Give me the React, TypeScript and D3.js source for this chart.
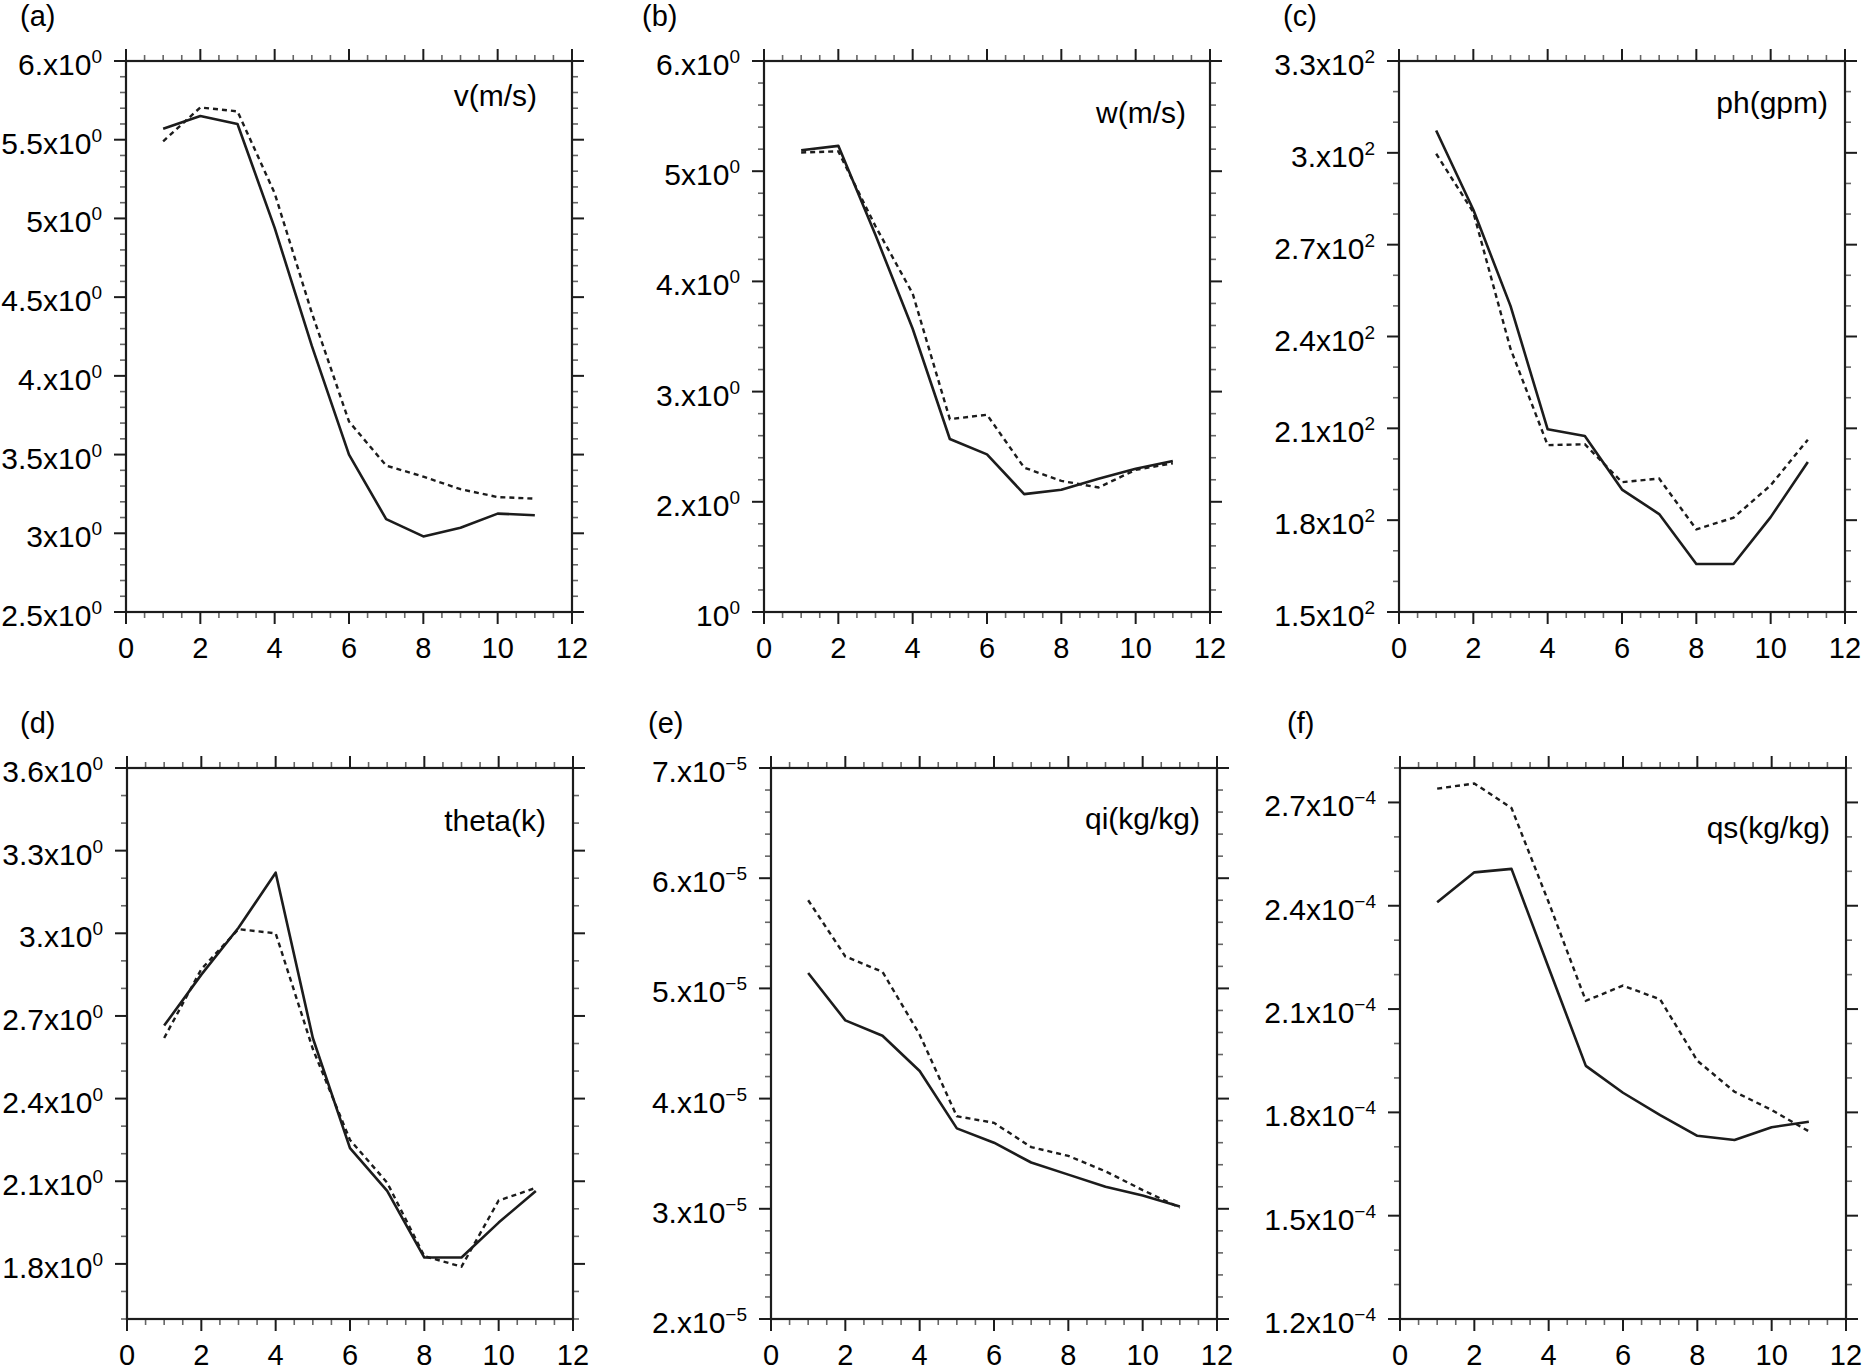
import * as d3 from 'd3';

// x positions shared by every panel
const steps = [1, 2, 3, 4, 5, 6, 7, 8, 9, 10, 11];

// (a) v(m/s)
const vSolid = [5.57, 5.65, 5.6, 4.94, 4.19, 3.5, 3.09, 2.98, 3.035, 3.125, 3.115];
const vDotted = [5.49, 5.705, 5.68, 5.16, 4.4, 3.71, 3.43, 3.36, 3.28, 3.23, 3.22];
const vTicks = [6, 5.5, 5, 4.5, 4, 3.5, 3, 2.5];
const vTickText = ['6.', '5.5', '5', '4.5', '4.', '3.5', '3', '2.5'];

// (b) w(m/s)
const wSolid = [5.19, 5.23, 4.42, 3.57, 2.57, 2.43, 2.07, 2.11, 2.21, 2.3, 2.37];
const wDotted = [5.17, 5.18, 4.5, 3.89, 2.75, 2.79, 2.31, 2.19, 2.13, 2.29, 2.35];
const wTicks = [6, 5, 4, 3, 2, 1];
const wTickText = ['6.', '5', '4.', '3.', '2.', ''];

// (c) ph(gpm)
const phSolid = [307.3, 281.4, 250, 209.7, 207.5, 190, 182, 165.7, 165.7, 181, 199];
const phDotted = [299.7, 280.6, 236, 204.5, 204.8, 192.4, 193.6, 177, 180.8, 191.4, 206.3];
const phTicks = [330, 300, 270, 240, 210, 180, 150];
const phTickText = ['3.3', '3.', '2.7', '2.4', '2.1', '1.8', '1.5'];

// (d) theta(k)
const thetaSolid = [2.665, 2.85, 3.02, 3.22, 2.62, 2.22, 2.065, 1.823, 1.823, 1.95, 2.065];
const thetaDotted = [2.62, 2.87, 3.015, 3.0, 2.58, 2.25, 2.095, 1.828, 1.79, 2.03, 2.076];
const thetaTicks = [3.6, 3.3, 3.0, 2.7, 2.4, 2.1, 1.8];
const thetaTickText = ['3.6', '3.3', '3.', '2.7', '2.4', '2.1', '1.8'];

// (e) qi(kg/kg)
const qiSolid = [5.14e-5, 4.71e-5, 4.57e-5, 4.25e-5, 3.73e-5, 3.6e-5, 3.42e-5, 3.31e-5, 3.2e-5, 3.12e-5, 3.02e-5];
const qiDotted = [5.8e-5, 5.29e-5, 5.15e-5, 4.58e-5, 3.84e-5, 3.78e-5, 3.56e-5, 3.48e-5, 3.34e-5, 3.17e-5, 3.01e-5];
const qiTicks = [7e-5, 6e-5, 5e-5, 4e-5, 3e-5, 2e-5];
const qiTickText = ['7.', '6.', '5.', '4.', '3.', '2.'];

// (f) qs(kg/kg)
const qsSolid = [2.41e-4, 2.497e-4, 2.507e-4, 2.22e-4, 1.935e-4, 1.857e-4, 1.792e-4, 1.732e-4, 1.72e-4, 1.757e-4, 1.773e-4];
const qsDotted = [2.74e-4, 2.755e-4, 2.684e-4, 2.41e-4, 2.124e-4, 2.168e-4, 2.128e-4, 1.95e-4, 1.86e-4, 1.807e-4, 1.745e-4];
const qsTicks = [2.7e-4, 2.4e-4, 2.1e-4, 1.8e-4, 1.5e-4, 1.2e-4];
const qsTickText = ['2.7', '2.4', '2.1', '1.8', '1.5', '1.2'];

const xTickLabels = ['0', '2', '4', '6', '8', '10', '12'];

const W = 1864;
const H = 1372;
const plotW = 446;
const plotH = 551;
const FONT = '"Liberation Sans", Arial, Helvetica, sans-serif';
const INK = '#1c1c1c';

interface PanelSpec {
  tag: string;
  title: string;
  domain: [number, number];
  minor: number;
  ticks: number[];
  tickText: string[];
  exp: string;
  solid: number[];
  dotted: number[];
  left: number;
  top: number;
  tagX: number;
  titleRight: number;
  titleY: number;
}

const panels: PanelSpec[] = [
  { tag: '(a)', title: 'v(m/s)', domain: [2.5, 6], minor: 0.1, ticks: vTicks, tickText: vTickText, exp: '0',
    solid: vSolid, dotted: vDotted, left: 126, top: 61, tagX: 20, titleRight: 35, titleY: 106 },
  { tag: '(b)', title: 'w(m/s)', domain: [1, 6], minor: 0.2, ticks: wTicks, tickText: wTickText, exp: '0',
    solid: wSolid, dotted: wDotted, left: 764, top: 61, tagX: 642, titleRight: 24, titleY: 123 },
  { tag: '(c)', title: 'ph(gpm)', domain: [150, 330], minor: 10, ticks: phTicks, tickText: phTickText, exp: '2',
    solid: phSolid, dotted: phDotted, left: 1399, top: 61, tagX: 1283, titleRight: 17, titleY: 113 },
  { tag: '(d)', title: 'theta(k)', domain: [1.6, 3.6], minor: 0.1, ticks: thetaTicks, tickText: thetaTickText, exp: '0',
    solid: thetaSolid, dotted: thetaDotted, left: 127, top: 768, tagX: 20, titleRight: 27, titleY: 831 },
  { tag: '(e)', title: 'qi(kg/kg)', domain: [2e-5, 7e-5], minor: 0.2e-5, ticks: qiTicks, tickText: qiTickText, exp: '\u22125',
    solid: qiSolid, dotted: qiDotted, left: 771, top: 768, tagX: 648, titleRight: 17, titleY: 829 },
  { tag: '(f)', title: 'qs(kg/kg)', domain: [1.2e-4, 2.8e-4], minor: 0.1e-4, ticks: qsTicks, tickText: qsTickText, exp: '\u22124',
    solid: qsSolid, dotted: qsDotted, left: 1400, top: 768, tagX: 1287, titleRight: 16, titleY: 838 },
];

function Panel({ p }: { p: PanelSpec }) {
  const x = d3.scaleLinear().domain([0, 12]).range([p.left, p.left + plotW]);
  const y = d3.scaleLinear().domain(p.domain).range([p.top + plotH, p.top]);
  const right = p.left + plotW;
  const bottom = p.top + plotH;

  const line = d3.line<number>()
    .x((_, i) => x(steps[i]))
    .y(d => y(d));

  const xMajor = d3.range(0, 13, 2);
  const xMinor = d3.range(0, 25).map(i => i * 0.5).filter(v => v % 2 !== 0);
  const span = p.domain[1] - p.domain[0];
  const nMinor = Math.round(span / p.minor);
  const yMinor = d3.range(0, nMinor + 1)
    .map(i => p.domain[0] + i * p.minor)
    .filter(v => !p.ticks.some(t => Math.abs(t - v) < p.minor * 0.01));

  const majLen = 12;
  const minLen = 6;

  return (
    <g>
      <text x={p.tagX} y={p.top - 35} fontSize={29}>{p.tag}</text>

      {/* minor ticks */}
      <g stroke="#666" strokeWidth={1.6}>
        {xMinor.map(v => (
          <g key={`xm${v}`}>
            <line x1={x(v)} x2={x(v)} y1={bottom} y2={bottom + minLen} />
            <line x1={x(v)} x2={x(v)} y1={p.top} y2={p.top - minLen} />
          </g>
        ))}
        {yMinor.map(v => (
          <g key={`ym${v}`}>
            <line x1={p.left} x2={p.left - minLen} y1={y(v)} y2={y(v)} />
            <line x1={right} x2={right + minLen} y1={y(v)} y2={y(v)} />
          </g>
        ))}
      </g>

      {/* major ticks */}
      <g stroke={INK} strokeWidth={2}>
        {xMajor.map(v => (
          <g key={`xM${v}`}>
            <line x1={x(v)} x2={x(v)} y1={bottom} y2={bottom + majLen} />
            <line x1={x(v)} x2={x(v)} y1={p.top} y2={p.top - majLen} />
          </g>
        ))}
        {p.ticks.map(v => (
          <g key={`yM${v}`}>
            <line x1={p.left} x2={p.left - majLen} y1={y(v)} y2={y(v)} />
            <line x1={right} x2={right + majLen} y1={y(v)} y2={y(v)} />
          </g>
        ))}
      </g>

      <rect x={p.left} y={p.top} width={plotW} height={plotH} fill="none" stroke={INK} strokeWidth={2.2} />

      {/* x labels */}
      {xMajor.map((v, i) => (
        <text key={`xl${v}`} x={x(v)} y={bottom + 46} fontSize={29} textAnchor="middle">{xTickLabels[i]}</text>
      ))}

      {/* y labels */}
      {p.ticks.map((v, i) => (
        <text key={`yl${v}`} x={p.left - 24} y={y(v) + 14} fontSize={30} textAnchor="end">
          {p.tickText[i] === '' ? '10' : `${p.tickText[i]}x10`}
          <tspan dy={-12} fontSize={19}>{p.exp}</tspan>
        </text>
      ))}

      <text x={right - p.titleRight} y={p.titleY} fontSize={30} textAnchor="end">{p.title}</text>

      <path d={line(p.solid) ?? ''} fill="none" stroke={INK} strokeWidth={2.6} strokeLinejoin="round" />
      <path d={line(p.dotted) ?? ''} fill="none" stroke={INK} strokeWidth={2.4} strokeDasharray="5 4" />
    </g>
  );
}

export default function App() {
  return (
    <svg
      width={W}
      height={H}
      viewBox={`0 0 ${W} ${H}`}
      style={{ position: 'absolute', left: 0, top: 0, background: '#fff' }}
      fontFamily={FONT}
      fill="#000"
    >
      <rect x={0} y={0} width={W} height={H} fill="#fff" />
      {panels.map(p => <Panel key={p.tag} p={p} />)}
    </svg>
  );
}
